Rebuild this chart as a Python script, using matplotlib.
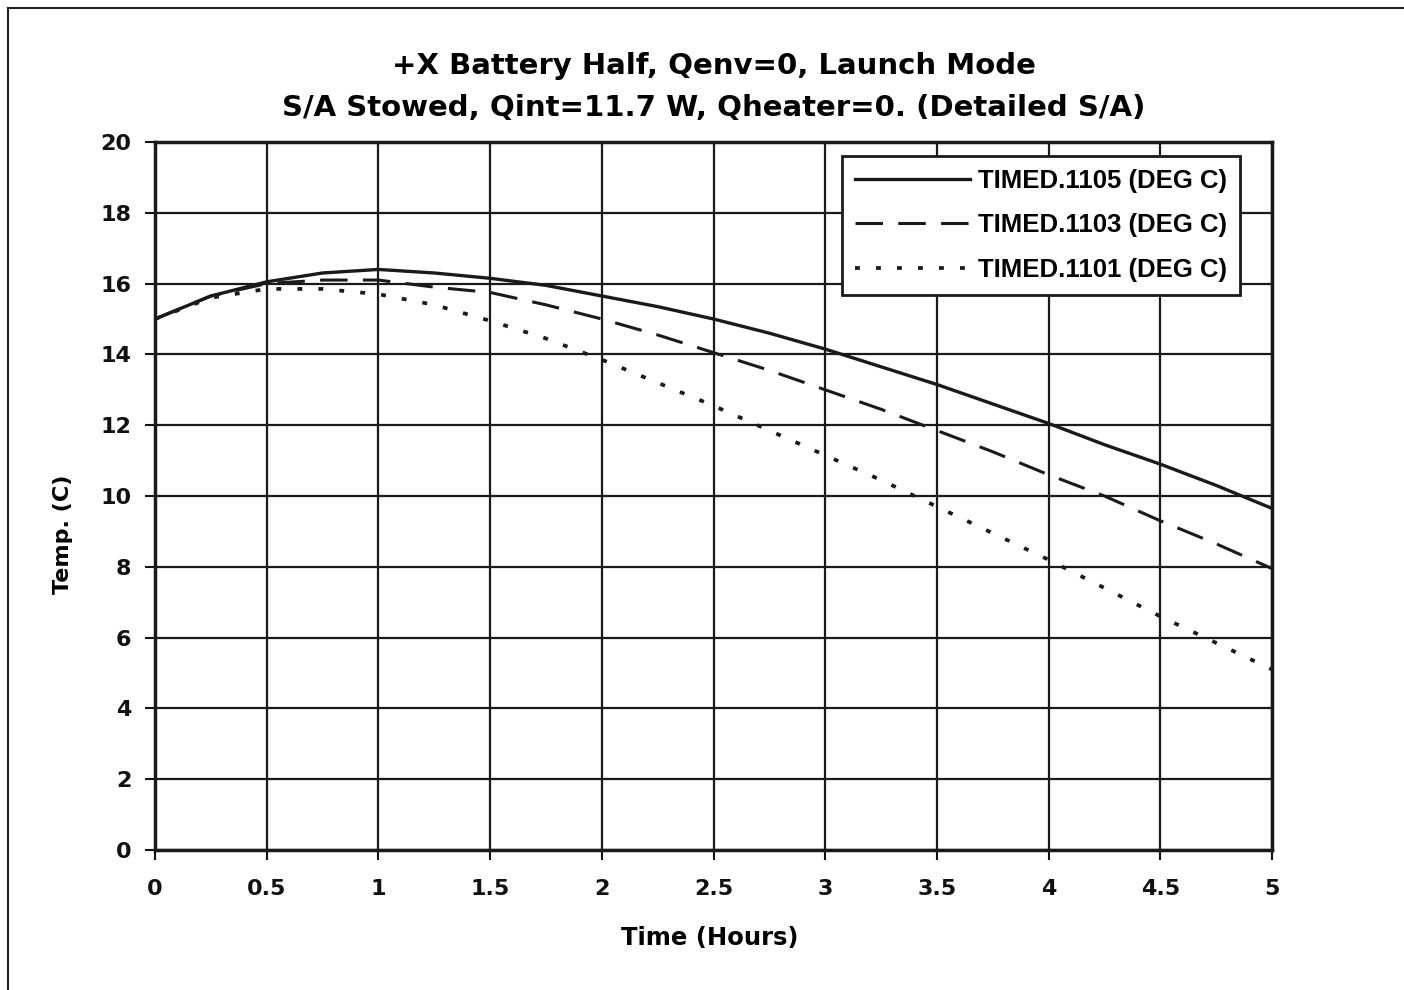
import matplotlib.pyplot as plt
from matplotlib.lines import Line2D

plt.rcParams['font.family'] = ['Liberation Sans', 'DejaVu Sans']
plt.rcParams['font.weight'] = 'bold'

# time in hours, temperatures in deg C
hours = [0, 0.25, 0.5, 0.75, 1.0, 1.25, 1.5, 1.75, 2.0, 2.25, 2.5,
         2.75, 3.0, 3.25, 3.5, 3.75, 4.0, 4.25, 4.5, 4.75, 5.0]
t1105 = [15.0, 15.65, 16.05, 16.3, 16.4, 16.3, 16.15, 15.95, 15.65, 15.35, 15.0,
         14.6, 14.15, 13.65, 13.15, 12.6, 12.05, 11.45, 10.9, 10.3, 9.65]
t1103 = [15.0, 15.65, 16.0, 16.1, 16.1, 15.9, 15.75, 15.4, 15.0, 14.55, 14.05,
         13.55, 13.0, 12.45, 11.85, 11.25, 10.6, 10.0, 9.3, 8.65, 7.95]
t1101 = [15.0, 15.6, 15.85, 15.85, 15.7, 15.4, 14.95, 14.45, 13.85, 13.2, 12.55,
         11.85, 11.15, 10.45, 9.7, 8.95, 8.2, 7.4, 6.6, 5.85, 5.1]
names = ['TIMED.1105 (DEG C)', 'TIMED.1103 (DEG C)', 'TIMED.1101 (DEG C)']

x_ticks = [0, 0.5, 1, 1.5, 2, 2.5, 3, 3.5, 4, 4.5, 5]
y_ticks = [0, 2, 4, 6, 8, 10, 12, 14, 16, 18, 20]

wide = ['DejaVu Sans']

fig = plt.figure(figsize=(14.04, 9.9), dpi=100)
ax = fig.add_axes([155 / 1404, 1 - 850 / 990, (1272 - 155) / 1404, (850 - 142) / 990])

# page frame lines from the scanned sheet
fig.add_artist(Line2D([8 / 1404, 8 / 1404], [0, 1 - 8 / 990], color='#222222', lw=1.5,
                      transform=fig.transFigure))
fig.add_artist(Line2D([8 / 1404, 1], [1 - 8 / 990, 1 - 8 / 990], color='#222222', lw=1.5,
                      transform=fig.transFigure))

ax.plot(hours, t1105, color='#1a1a1a', lw=2.4, ls='-', label=names[0])
ax.plot(hours, t1103, color='#1a1a1a', lw=2.2, ls=(0, (9, 5)), label=names[1])
ax.plot(hours, t1101, color='#1a1a1a', lw=2.7, ls=(0, (1.3, 4.3)), label=names[2])

ax.set_xlim(0, 5)
ax.set_ylim(0, 20)
ax.set_xticks(x_ticks)
ax.set_xticklabels([f'{v:g}' for v in x_ticks], family=wide)
ax.set_yticks(y_ticks)
ax.set_yticklabels([str(v) for v in y_ticks], family=wide)
ax.grid(True, color='#1a1a1a', lw=1.6)
ax.set_axisbelow(True)
for s in ax.spines.values():
    s.set_linewidth(2.5)
    s.set_color('#1a1a1a')
ax.tick_params(axis='both', direction='out', length=7, width=1.5, labelsize=16, colors='#111111')
ax.tick_params(axis='x', pad=14)
ax.tick_params(axis='y', pad=10)

ax.set_xlabel('Time (Hours)', fontsize=17.5, fontweight='bold', family=wide)
ax.xaxis.set_label_coords(0.497, -(926 - 850) / 708)
ax.set_ylabel('Temp. (C)', fontsize=16, fontweight='bold', family=wide)
ax.yaxis.set_label_coords(-(155 - 73) / 1117, (850 - 534) / 708)
ax.set_title('+X Battery Half, Qenv=0, Launch Mode\nS/A Stowed, Qint=11.7 W, Qheater=0. (Detailed S/A)',
             fontsize=21, fontweight='bold', family=wide, linespacing=1.6, pad=19)

leg = ax.legend(loc='upper right', bbox_to_anchor=(1 - 32 / 1117, 1 - 14 / 708),
                fontsize=18.5, handlelength=4.5, handletextpad=0.3, labelspacing=0.8,
                frameon=True, fancybox=False, borderpad=0.5, borderaxespad=0)
leg.get_frame().set_edgecolor('#1a1a1a')
leg.get_frame().set_linewidth(2)
leg.get_frame().set_facecolor('white')
leg.get_frame().set_alpha(1)

fig.savefig('out.png', dpi=100)
